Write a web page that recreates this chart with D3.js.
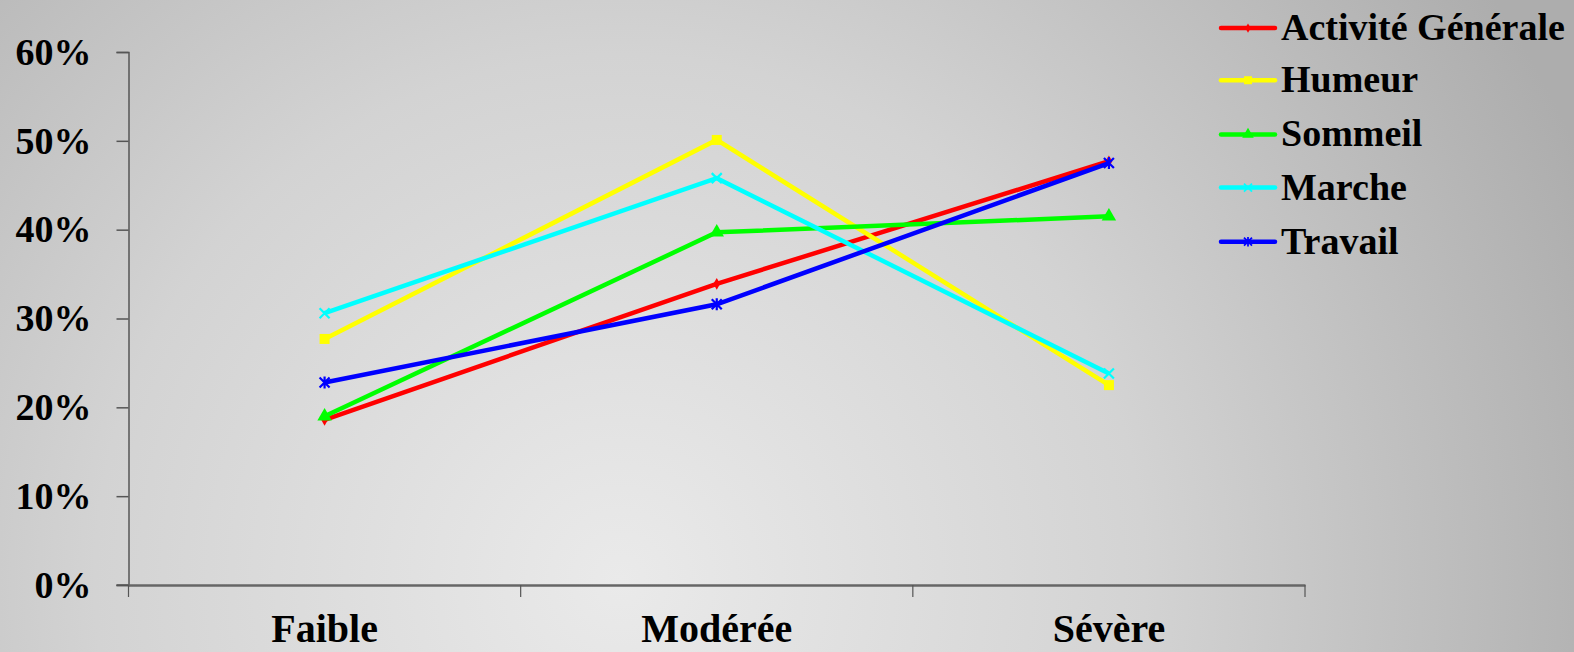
<!DOCTYPE html>
<html><head><meta charset="utf-8">
<script src="https://cdn.jsdelivr.net/npm/d3@7"></script>
<style>html,body{margin:0;padding:0;overflow:hidden;}svg{display:block;}</style>
</head><body>
<script>
const categories = ["Faible", "Modérée", "Sévère"];
const seriesNames = ["Activité Générale", "Humeur", "Sommeil", "Marche", "Travail"];
const activite = [0.186, 0.339, 0.477];
const humeur = [0.277, 0.501, 0.225];
const sommeil = [0.190, 0.397, 0.415];
const marche = [0.306, 0.458, 0.238];
const travail = [0.228, 0.316, 0.475];
const yTicks = [0, 0.1, 0.2, 0.3, 0.4, 0.5, 0.6];
const colors = ["#ff0000", "#ffff00", "#00ff00", "#00ffff", "#0000ff"];
const markers = ["diamond", "square", "triangle", "x", "star"];

const series = seriesNames.map((n, i) => ({name: n, values: [activite, humeur, sommeil, marche, travail][i], color: colors[i], marker: markers[i]}));

const W = 1574, H = 652;
const svg = d3.select("body").append("svg").attr("width", W).attr("height", H);
const defs = svg.append("defs");
const grad = defs.append("radialGradient").attr("id", "bg").attr("gradientUnits", "userSpaceOnUse")
  .attr("cx", 620).attr("cy", 580).attr("r", 1050);
grad.append("stop").attr("offset", "0%").attr("stop-color", "#eaeaea");
grad.append("stop").attr("offset", "50%").attr("stop-color", "#d3d3d3");
grad.append("stop").attr("offset", "100%").attr("stop-color", "#adadad");
svg.append("rect").attr("width", W).attr("height", H).attr("fill", "url(#bg)");

const x0 = 128.5, x1 = 1305, yTop = 52, yBot = 585;
const xBand = d3.scaleBand().domain(categories).range([x0, x1]);
const y = d3.scaleLinear().domain([0, 0.6]).range([yBot, yTop]);
const xc = c => xBand(c) + xBand.bandwidth() / 2;
const font = "'Liberation Serif', 'DejaVu Serif', serif";

// y axis
const yAxis = svg.append("g").attr("transform", `translate(${x0},0)`)
  .call(d3.axisLeft(y).tickValues(yTicks).tickFormat(d3.format(".0%")).tickSize(12).tickPadding(25));
yAxis.select(".domain").attr("stroke", "#555").attr("stroke-width", 1.5);
yAxis.selectAll(".tick line").attr("stroke", "#555").attr("stroke-width", 1.5);
yAxis.selectAll("text").attr("font-family", font).attr("font-weight", "bold").attr("font-size", 38).attr("fill", "#000");

// x axis
const xAxis = svg.append("g").attr("transform", `translate(0,${yBot})`)
  .call(d3.axisBottom(xBand).tickValues([]).tickSizeOuter(0));
xAxis.select(".domain").attr("stroke", "#666").attr("stroke-width", 2.5);
const tickXs = [x0].concat(categories.map(c => xBand(c) + xBand.bandwidth()));
xAxis.selectAll("line.tk").data(tickXs).join("line").attr("class", "tk")
  .attr("x1", d => d).attr("x2", d => d).attr("y1", 0).attr("y2", 12).attr("stroke", "#555").attr("stroke-width", 1.2);
svg.append("line").attr("x1", x0 - 12).attr("x2", x0).attr("y1", yBot).attr("y2", yBot).attr("stroke", "#555").attr("stroke-width", 1.5);
xAxis.selectAll("text.cat").data(categories).join("text").attr("class", "cat")
  .attr("x", d => xc(d)).attr("y", 57).attr("text-anchor", "middle")
  .attr("font-family", font).attr("font-weight", "bold").attr("font-size", 40).attr("fill", "#000").text(d => d);

function markerPath(type) {
  switch (type) {
    case "diamond": return d3.symbol(d3.symbolDiamond, 40)();
    case "square": return d3.symbol(d3.symbolSquare, 100)();
    case "triangle": return d3.symbol(d3.symbolTriangle, 90)();
    case "x": return "M-5,-5L5,5M-5,5L5,-5";
    case "star": return "M-5,-5L5,5M-5,5L5,-5M0,-6L0,6";
  }
}

const line = d3.line().x((d, i) => xc(categories[i])).y(d => y(d));
const g = svg.append("g");
series.forEach(s => {
  g.append("path").datum(s.values).attr("d", line).attr("fill", "none")
    .attr("stroke", s.color).attr("stroke-width", 4.5).attr("stroke-linejoin", "miter");
  s.values.forEach((v, i) => {
    const m = g.append("path").attr("d", markerPath(s.marker))
      .attr("transform", `translate(${xc(categories[i])},${y(v)})`);
    if (s.marker === "x" || s.marker === "star") m.attr("fill", "none").attr("stroke", s.color).attr("stroke-width", 2.2);
    else m.attr("fill", s.color);
  });
});

// legend
const lg = svg.append("g");
const legY = [28, 80, 134, 187, 241];
series.forEach((s, i) => {
  const yy = legY[i] * 652 / 650;
  lg.append("line").attr("x1", 1221).attr("x2", 1275).attr("y1", yy).attr("y2", yy)
    .attr("stroke", s.color).attr("stroke-width", 4.5).attr("stroke-linecap", "round");
  const m = lg.append("path").attr("d", markerPath(s.marker)).attr("transform", `translate(1248,${yy}) scale(0.8)`);
  if (s.marker === "x" || s.marker === "star") m.attr("fill", "none").attr("stroke", s.color).attr("stroke-width", 2.2);
  else m.attr("fill", s.color);
  lg.append("text").attr("x", 1281).attr("y", yy + 12)
    .attr("font-family", font).attr("font-weight", "bold").attr("font-size", 38).attr("fill", "#000").text(s.name);
});
</script>
</body></html>
